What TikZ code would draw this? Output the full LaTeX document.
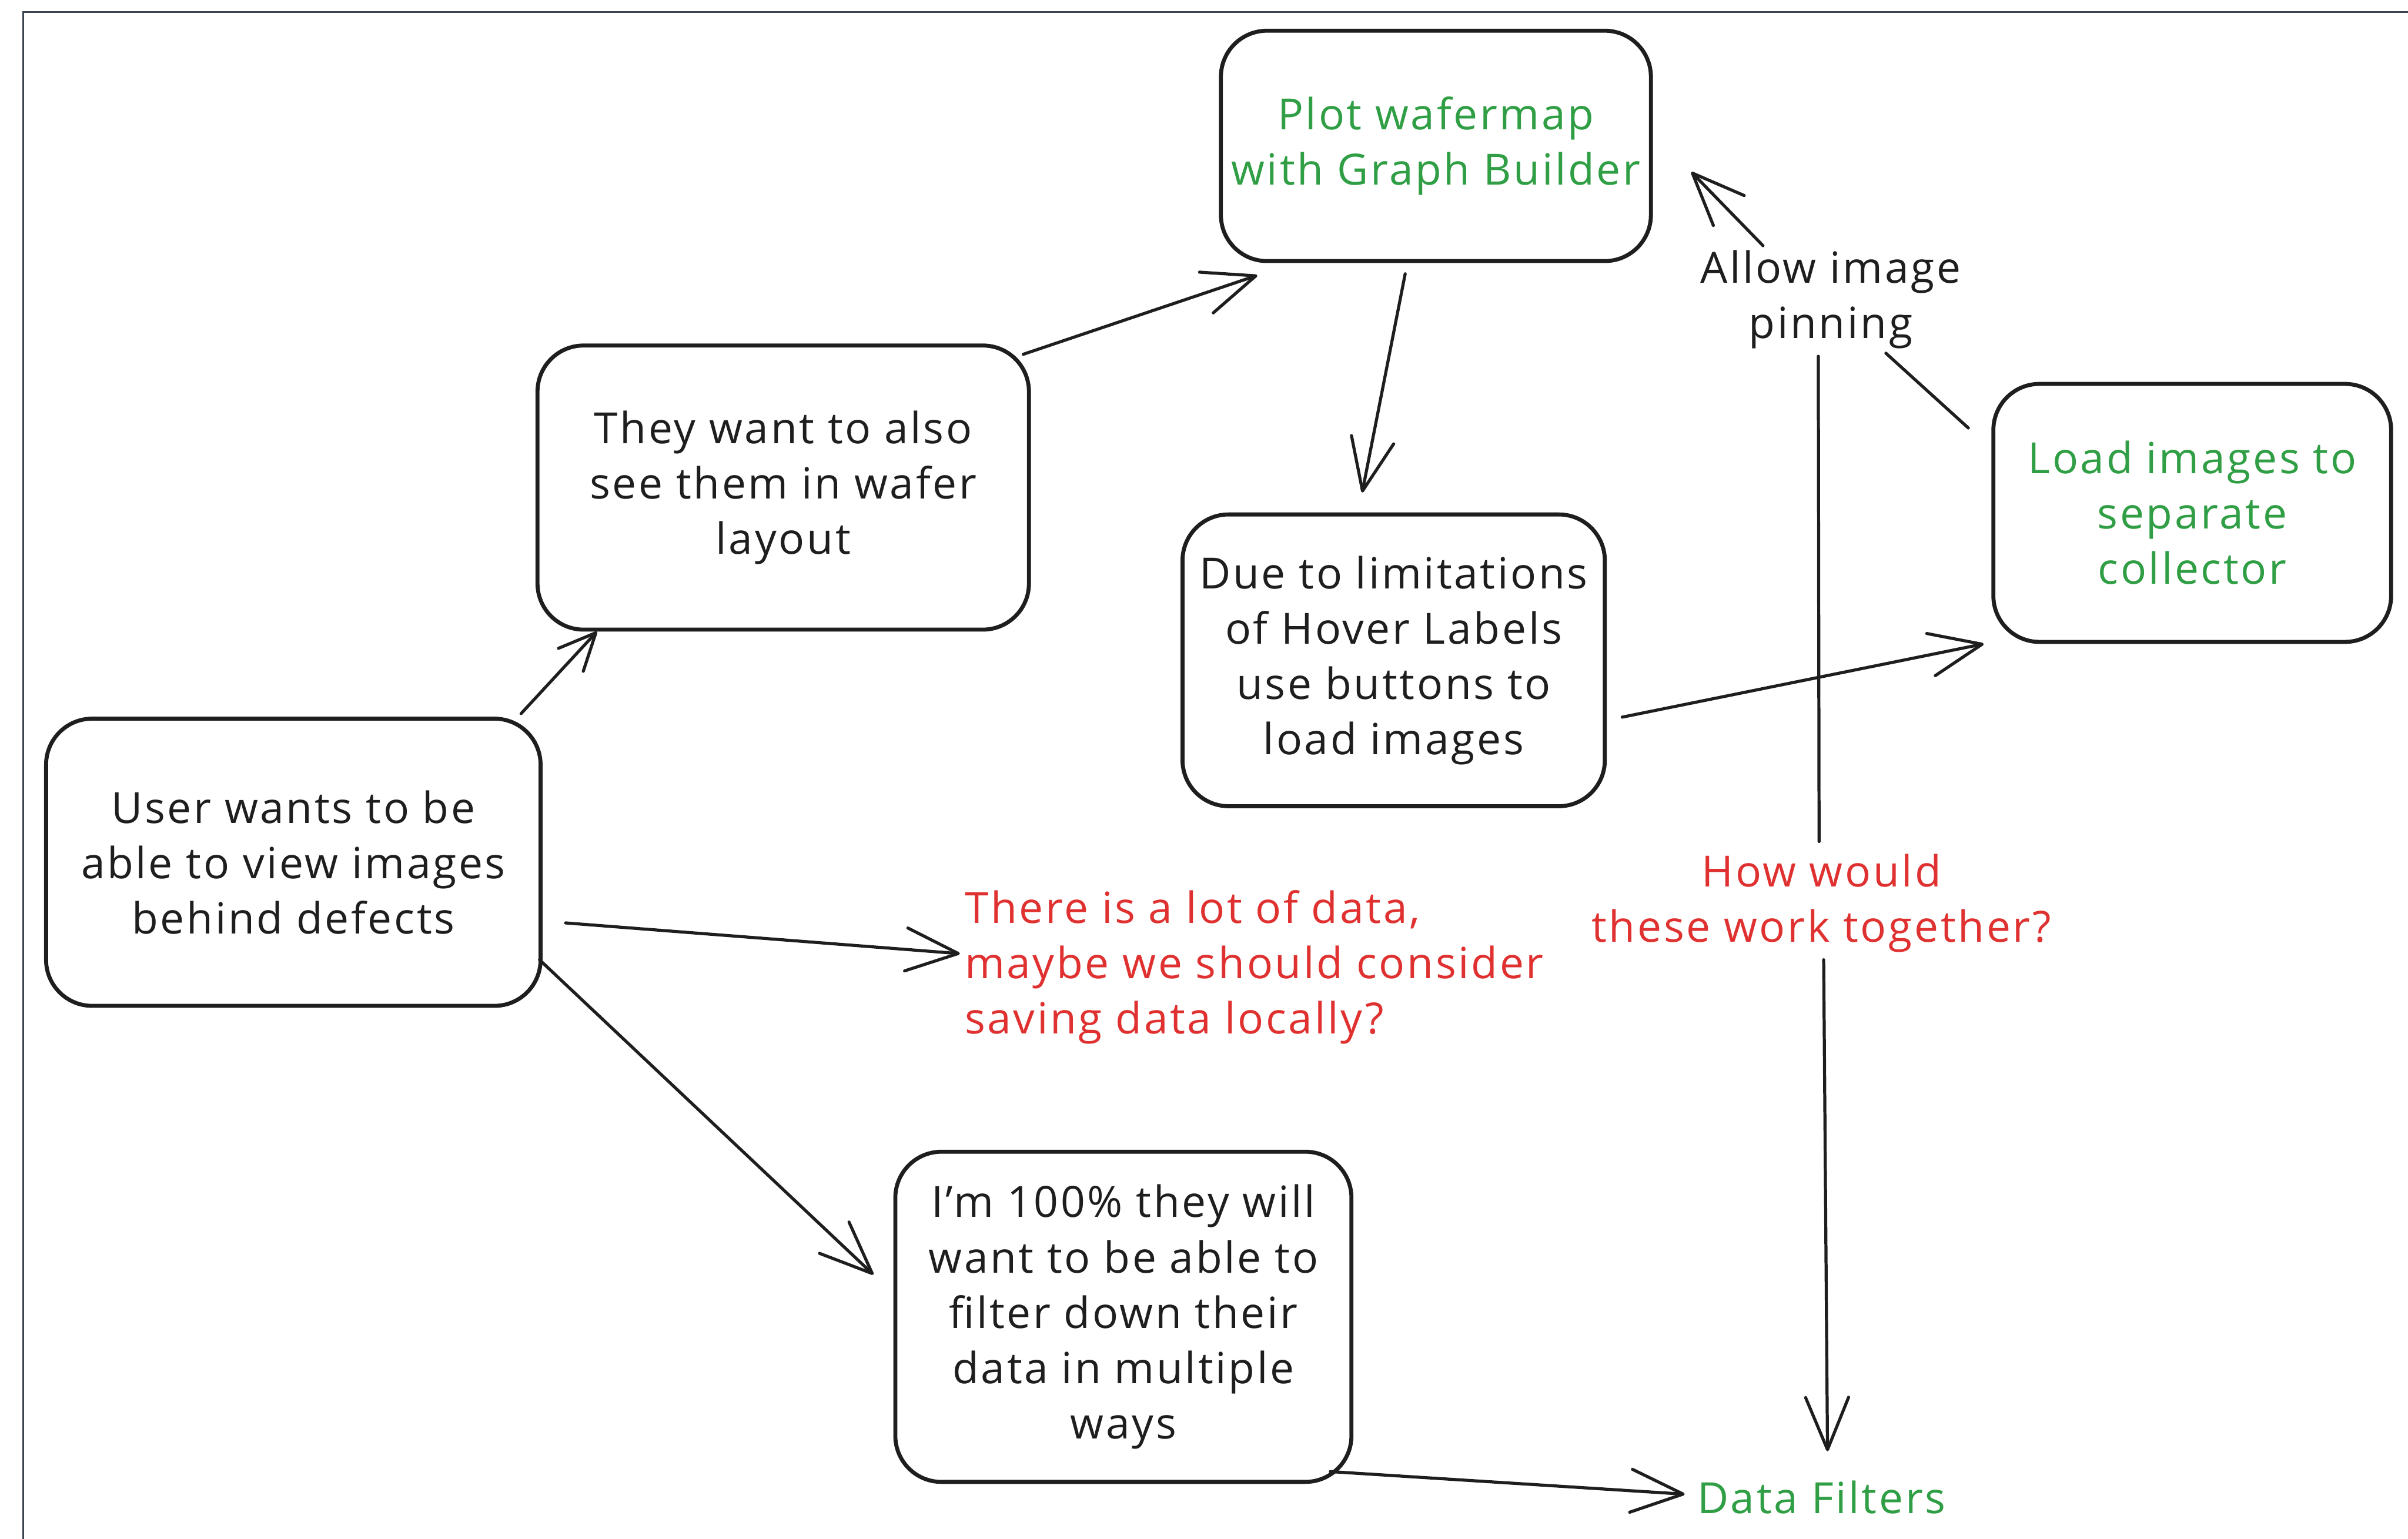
\documentclass[tikz,border=0pt]{standalone}
\usepackage{fontspec}
\setmainfont[LetterSpace=5]{Open Sans}
\usetikzlibrary{arrows.meta,calc}
\definecolor{ink}{HTML}{1E1E1E}
\definecolor{leaf}{HTML}{2F9E44}
\definecolor{alert}{HTML}{E03131}
\definecolor{rim}{HTML}{3B4550}
\newcommand{\sketchfont}{\fontsize{28}{36}\selectfont}
\begin{document}
\begin{tikzpicture}[x=1pt,y=-1pt,
  card/.style={draw=ink, line width=2.6pt, rounded corners=30pt, align=center,
    inner sep=0pt, font=\sketchfont, text=ink},
  note/.style={align=center, inner sep=0pt, font=\sketchfont},
  wire/.style={draw=ink, line width=2pt, line cap=round},
  flow/.style={wire, -{Straight Barb[length=34pt,width=28pt,round]}},
  shortflow/.style={wire, -{Straight Barb[length=24pt,width=22pt,round]}}]
\useasboundingbox (0,0) rectangle (1568,1002);

% canvas edge
\draw[rim, line width=1.2pt] (15,1002) -- (15,8) -- (1568,8);

% boxes
\node[card, minimum width=280pt, minimum height=150pt, text=leaf] (plot) at (935,95)
  {Plot wafermap\\with Graph Builder};
\node[card, minimum width=320pt, minimum height=185pt] (wafer) at (510,317.5)
  {They want to also\\see them in wafer\\layout};
\node[card, minimum width=275pt, minimum height=190pt] (hover) at (907.5,430)
  {Due to limitations\\of Hover Labels\\use buttons to\\load images};
\node[card, minimum width=259pt, minimum height=168pt, text=leaf] (collect) at (1427.5,334)
  {Load images to\\separate\\collector};
\node[card, minimum width=322pt, minimum height=187pt] (user) at (191,561.5)
  {User wants to be\\able to view images\\behind defects};
\node[card, minimum width=297pt, minimum height=215pt] (filter) at (731.5,857.5)
  {I'm 100\% they will\\want to be able to\\filter down their\\data in multiple\\ways};

% free-standing texts
\node[note, text=alert, anchor=west, align=left] (local) at (628,630)
  {There is a lot of data,\\maybe we should consider\\saving data locally?};
\node[note, text=alert] (together) at (1186,588) {How would\\these work together?};
\node[note, text=leaf, anchor=west] (datafilters) at (1105,975) {Data Filters};
\node[note, text=ink] (pin) at (1192,195) {Allow image\\pinning};

% connectors
\draw[shortflow] ($(user.north east)+(-14,-2)$) -- ($(wafer.south west)+(40,0)$);
\draw[flow] ($(wafer.north east)+(-5,7)$) -- ($(plot.south west)+(25,8)$);
\draw[flow] ($(plot.south)+(-20,7)$) -- ($(hover.north)+(-20.5,-13)$);
\draw[flow] ($(user.east)+(15,39.5)$) -- ($(local.west)+(-3,-9)$);
\draw[flow] ($(user.east)+(-2,63.5)$) -- ($(filter.west)+(-13,-27.5)$);
\draw[flow] ($(hover.east)+(10,37)$) -- ($(collect.south west)+(-5,0)$);
\draw[flow] ($(filter.south east)+(-15,-8)$) -- ($(datafilters.west)+(-8,-2)$);

% pinning link from the collector back to the plot
\draw[wire] ($(collect.north west)+(-15,30)$) -- ($(pin.center)+(36,35)$);
\draw[flow] ($(pin.center)+(-44,-35)$) -- ($(plot.east)+(25,17)$);

% vertical link down to the data filters
\draw[wire] ($(pin.center)+(-8,37)$) -- ($(together.center)+(-1.5,-40)$);
\draw[flow] ($(together.center)+(1.5,37)$) -- ($(datafilters.west)+(85,-30)$);
\end{tikzpicture}
\end{document}
